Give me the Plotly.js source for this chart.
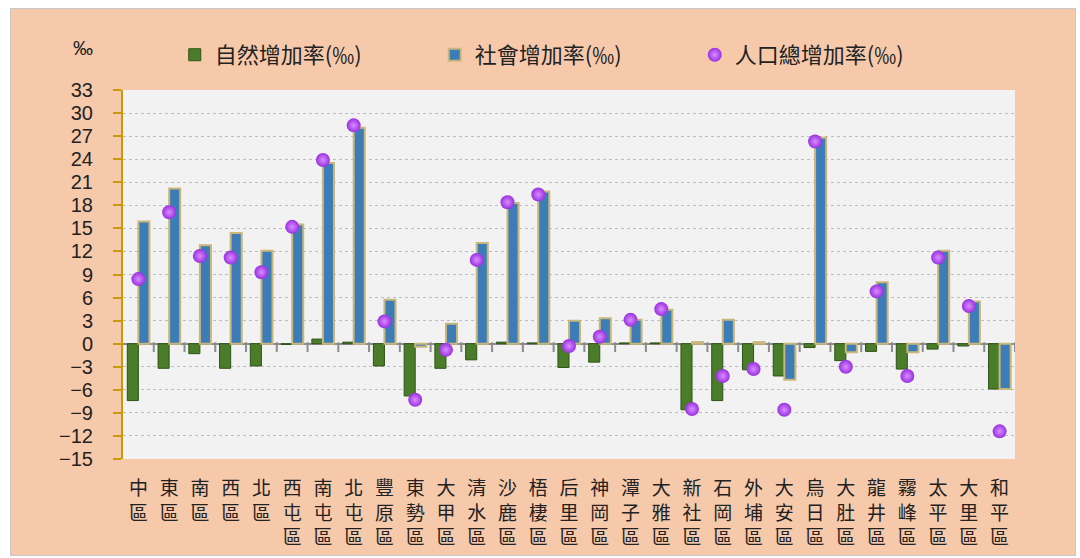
<!DOCTYPE html>
<html>
<head>
<meta charset="utf-8">
<script src="https://cdn.plot.ly/plotly-3.0.1.min.js"></script>
<style>
  html, body { margin: 0; padding: 0; background: #ffffff; }
  #frame {
    position: absolute; left: 10px; top: 8px; width: 1064px; height: 546px;
    background: #F6C9AB; border: 1px solid #c8c8c8;
  }
  #chart { position: absolute; left: 0; top: 0; width: 1080px; height: 558px; }
</style>
</head>
<body>
<div id="frame"></div>
<div id="chart"></div>
<script>
// 臺中市各區人口增加率 (‰)
const districts = [
    "中區", "東區", "南區", "西區", "北區", "西屯區", "南屯區", "北屯區",
    "豐原區", "東勢區", "大甲區", "清水區", "沙鹿區", "梧棲區", "后里區",
    "神岡區", "潭子區", "大雅區", "新社區", "石岡區", "外埔區", "大安區",
    "烏日區", "大肚區", "龍井區", "霧峰區", "太平區", "大里區", "和平區",
];
const naturalRate = [
    -7.4, -3.2, -1.3, -3.2, -2.9, -0.1, 0.6, 0.2, -2.9, -6.8, -3.2, -2.1,
    0.2, 0.1, -3.1, -2.4, 0.1, 0.1, -8.6, -7.4, -3.4, -4.2, -0.5, -2.2,
    -1.0, -3.3, -0.7, -0.3, -5.9,
];
const socialRate = [
    15.9, 20.2, 12.8, 14.4, 12.1, 15.5, 23.5, 28.1, 5.7, -0.4, 2.6, 13.1,
    18.3, 19.8, 3.0, 3.3, 3.1, 4.4, 0.2, 3.1, 0.2, -4.7, 26.8, -1.1,
    8.0, -1.1, 12.1, 5.5, -5.9,
];
const totalRate = [
    8.4, 17.1, 11.4, 11.2, 9.3, 15.2, 23.9, 28.4, 2.9, -7.3, -0.8, 10.9,
    18.4, 19.4, -0.3, 0.9, 3.1, 4.5, -8.5, -4.2, -3.3, -8.6, 26.3, -3.0,
    6.8, -4.2, 11.2, 4.9, -11.4,
];
const yTicks = [33, 30, 27, 24, 21, 18, 15, 12, 9, 6, 3, 0, -3, -6, -9, -12, -15];

// 直式標籤
const tickText = districts.map((d) => d.split("").join("<br>"));
const xRange = [-0.5, districts.length - 0.5];
// 零軸上類別之間的分隔刻度位置
const boundaries = districts.map((d, i) => i + 0.5);

const cjk = "'Noto Sans CJK TC', 'Noto Sans CJK SC', sans-serif";

const traces = [
    {
        // 零軸下方的短刻度 (畫在隱藏的 x2 線性軸上)
        type: "scatter",
        mode: "markers",
        x: boundaries,
        y: boundaries.map(() => -0.45),
        xaxis: "x2",
        marker: {
            symbol: "line-ns",
            size: 7,
            color: "#8C8C8C",
            line: { color: "#8C8C8C", width: 2 },
        },
        showlegend: false,
        hoverinfo: "skip",
    },
    {
        type: "bar",
        name: "自然增加率(‰)",
        x: districts,
        y: naturalRate,
        marker: { color: "#4B7C2A", line: { color: "#2F5417", width: 1 } },
    },
    {
        type: "bar",
        name: "社會增加率(‰)",
        x: districts,
        y: socialRate,
        marker: { color: "#3C7DB8", line: { color: "#C9B67A", width: 2 } },
    },
    {
        type: "scatter",
        mode: "markers",
        name: "人口總增加率(‰)",
        x: districts,
        y: totalRate,
        marker: {
            color: "#9A30E0",
            size: 14,
            gradient: { type: "radial", color: "#D98CFF" },
            line: { width: 0 },
        },
    },
];

const layout = {
    width: 1080,
    height: 558,
    paper_bgcolor: "rgba(0,0,0,0)",
    plot_bgcolor: "#F2F2F2",
    margin: { l: 123, r: 65, t: 90, b: 99 },
    barmode: "group",
    bargap: 0.28,
    bargroupgap: 0,
    showlegend: true,
    legend: {
        orientation: "h",
        x: 0.058,
        y: 1.095,
        xanchor: "left",
        yanchor: "middle",
        entrywidth: 215,
        entrywidthmode: "pixels",
        font: { family: cjk, size: 22, color: "#222222" },
        bgcolor: "rgba(0,0,0,0)",
        traceorder: "normal",
    },
    xaxis: {
        type: "category",
        range: xRange,
        tickvals: districts,
        ticktext: tickText,
        ticks: "",
        showgrid: false,
        showline: false,
        zeroline: false,
        ticklabelstandoff: 16,
        tickfont: { family: cjk, size: 19, color: "#222222" },
    },
    xaxis2: {
        type: "linear",
        overlaying: "x",
        range: xRange,
        visible: false,
    },
    yaxis: {
        range: [-15, 33],
        tickvals: yTicks,
        ticks: "outside",
        ticklen: 8,
        tickwidth: 2,
        tickcolor: "#C99A06",
        showline: true,
        linecolor: "#C99A06",
        linewidth: 2,
        showgrid: true,
        gridcolor: "#BDBDBD",
        griddash: "dot",
        gridwidth: 1,
        zeroline: true,
        zerolinecolor: "#8C8C8C",
        zerolinewidth: 2,
        ticklabelstandoff: 16,
        tickfont: { family: "'Liberation Sans', Arial, sans-serif", size: 20, color: "#222222" },
    },
    annotations: [
        {
            text: "‰",
            xref: "paper",
            yref: "paper",
            x: -0.045,
            y: 1.115,
            xanchor: "center",
            yanchor: "middle",
            showarrow: false,
            font: { family: "'Liberation Sans', Arial, sans-serif", size: 20, color: "#222222" },
        },
    ],
};

Plotly.newPlot("chart", traces, layout, { displayModeBar: false, staticPlot: true });
</script>
</body>
</html>
